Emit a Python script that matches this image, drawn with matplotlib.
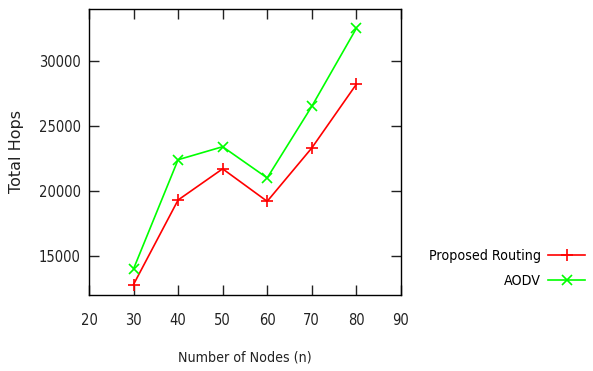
import matplotlib
matplotlib.use('Agg')
import matplotlib.pyplot as plt

# number of nodes and total hops
nodes = [30, 40, 50, 60, 70, 80]
proposed = [12800, 19300, 21700, 19200, 23300, 28200]
aodv = [14000, 22400, 23400, 21000, 26500, 32500]

xticks = [20, 30, 40, 50, 60, 70, 80, 90]
yticks = [15000, 20000, 25000, 30000]

plt.rcParams['font.family'] = ['DejaVu Sans']
plt.rcParams['font.stretch'] = 'condensed'

fig = plt.figure(figsize=(5.93, 3.71), dpi=100)
ax = fig.add_axes([0.150, 0.205, 0.526, 0.771])

ax.plot(nodes, proposed, c='#ff0000', lw=1.2, marker='+', ms=9, mew=1.2,
        label='Proposed Routing')
ax.plot(nodes, aodv, c='#00ff00', lw=1.2, marker='x', ms=7, mew=1.2,
        label='AODV')

ax.set_xlim(20, 90)
ax.set_ylim(12000, 34000)
ax.set_xticks(xticks)
ax.set_yticks(yticks)
ax.tick_params(axis='both', direction='in', length=7, width=1,
               top=True, right=True, labelsize=10.5, colors='#222222')
ax.tick_params(axis='x', pad=13)
ax.tick_params(axis='y', pad=6)
for s in ax.spines.values():
    s.set_linewidth(1)

ax.set_xlabel('Number of Nodes (n)', fontsize=10.2, color='#222222')
ax.xaxis.set_label_coords(0.5, -0.195)
ax.set_ylabel('Total Hops', fontsize=11.5, color='#222222', fontstretch='normal')
ax.yaxis.set_label_coords(-0.207, 0.5)

fig.legend(loc='center right', bbox_to_anchor=(0.987, 0.276), frameon=False,
           markerfirst=False, fontsize=10.2, handlelength=2.6, handletextpad=0.55,
           labelspacing=0.8, borderpad=0, borderaxespad=0)

fig.savefig('out.png', dpi=100)
